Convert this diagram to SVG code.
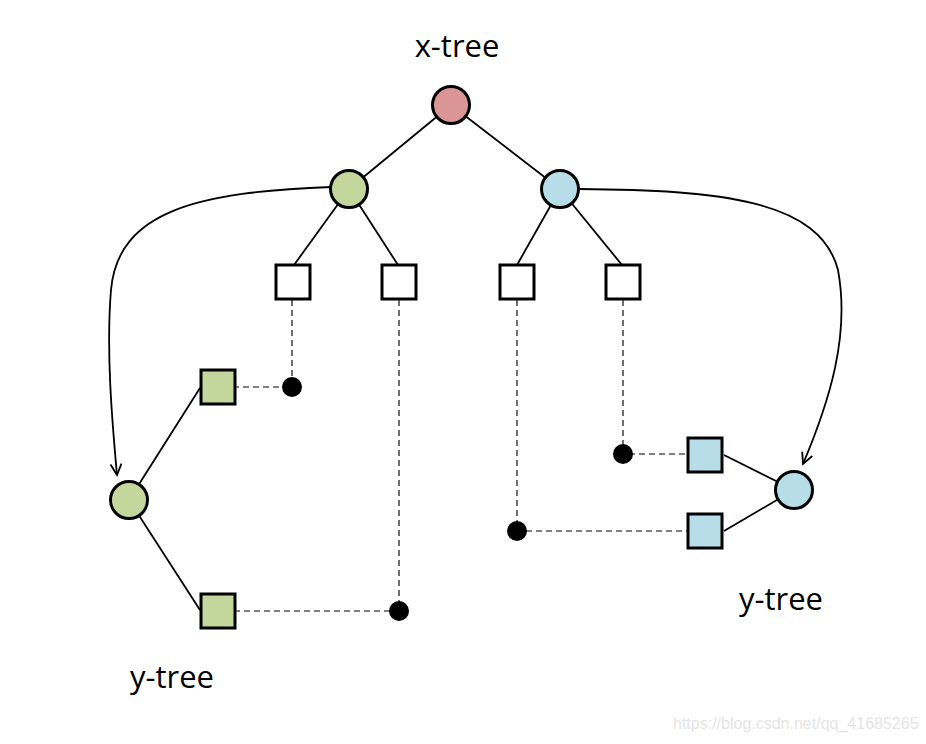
<svg xmlns="http://www.w3.org/2000/svg" width="926" height="744" viewBox="0 0 926 744">
<style>
.node{stroke:#000;stroke-width:3}
.red{fill:#d99694}
.green{fill:#c3d69b}
.blue{fill:#b7dee8}
.white{fill:#fff}
.edge{stroke:#000;stroke-width:1.8;fill:none}
.dash{stroke:#555;stroke-width:1.7;fill:none;stroke-dasharray:6,4}
.dot{fill:#000}
.lbl{font-family:"Open Sans","Liberation Sans",sans-serif;font-size:31px;fill:#000;text-anchor:middle}
.wm{font-family:"Liberation Sans",Arial,sans-serif;font-size:16px;fill:#e4e4e4}
</style>
<defs>
<marker id="arr" markerWidth="16" markerHeight="16" refX="12" refY="6" orient="auto" markerUnits="userSpaceOnUse">
<polyline points="1,0.5 12,6 1,11.5" fill="none" stroke="#000" stroke-width="1.8"/>
</marker>
</defs>
<rect width="926" height="744" fill="#fff"/>
<g id="connectors">
<line class="edge" x1="451" y1="105" x2="349" y2="189"/>
<line class="edge" x1="451" y1="105" x2="560" y2="189"/>
<line class="edge" x1="349" y1="189" x2="294" y2="265"/>
<line class="edge" x1="349" y1="189" x2="398" y2="265"/>
<line class="edge" x1="560" y1="189" x2="517" y2="265"/>
<line class="edge" x1="560" y1="189" x2="622" y2="265"/>
<line class="edge" x1="129" y1="500" x2="200" y2="388"/>
<line class="edge" x1="129" y1="500" x2="200" y2="610"/>
<line class="edge" x1="794" y1="490" x2="724" y2="455"/>
<line class="edge" x1="794" y1="490" x2="724" y2="531"/>
<path class="edge" d="M 331 187 C 200 192 118 210 111 290 C 106 350 112 420 117 475" marker-end="url(#arr)"/>
<path class="edge" d="M 579 189 C 720 190 820 200 838 270 C 850 335 830 400 803 464" marker-end="url(#arr)"/>
<path class="dash" d="M 292 300 V 387 H 236"/>
<path class="dash" d="M 399 300 V 611 H 236"/>
<path class="dash" d="M 517 300 V 531 H 687"/>
<path class="dash" d="M 623 300 V 454 H 687"/>
</g>
<g id="root"><circle class="node red" cx="451" cy="105" r="18.5"/></g>
<g id="xl"><circle class="node green" cx="349" cy="189" r="18.5"/></g>
<g id="xr"><circle class="node blue" cx="560" cy="189" r="18.5"/></g>
<g id="leaf1"><rect class="node white" x="276" y="265" width="34" height="34"/></g>
<g id="leaf2"><rect class="node white" x="382" y="265" width="34" height="34"/></g>
<g id="leaf3"><rect class="node white" x="500" y="265" width="34" height="34"/></g>
<g id="leaf4"><rect class="node white" x="606" y="265" width="34" height="34"/></g>
<g id="ygreen"><circle class="node green" cx="129" cy="500" r="18.5"/></g>
<g id="ygs1"><rect class="node green" x="201" y="370" width="34" height="34"/></g>
<g id="ygs2"><rect class="node green" x="201" y="594" width="34" height="34"/></g>
<g id="yblue"><circle class="node blue" cx="794" cy="490" r="18.5"/></g>
<g id="ybs1"><rect class="node blue" x="688" y="438" width="34" height="34"/></g>
<g id="ybs2"><rect class="node blue" x="688" y="514" width="34" height="34"/></g>
<g id="dots">
<circle class="dot" cx="292" cy="387" r="10"/>
<circle class="dot" cx="399" cy="611" r="10"/>
<circle class="dot" cx="623" cy="454" r="10"/>
<circle class="dot" cx="517" cy="531" r="10"/>
</g>
<g id="labels">
<text class="lbl" x="457" y="57">x-tree</text>
<text class="lbl" x="172" y="688">y-tree</text>
<text class="lbl" x="781" y="610">y-tree</text>
<text class="wm" x="673" y="729">https://blog.csdn.net/qq_41685265</text>
</g>
</svg>
